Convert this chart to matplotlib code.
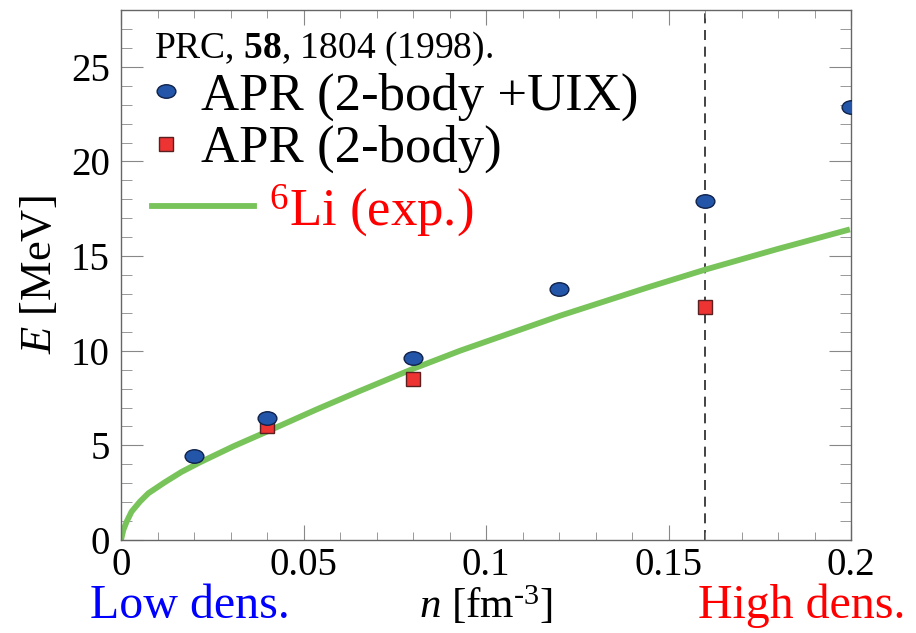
import matplotlib
matplotlib.use("Agg")
import matplotlib.pyplot as plt
from matplotlib.path import Path
from matplotlib.lines import Line2D
from matplotlib.ticker import MultipleLocator

plt.rcParams['font.family'] = ['Liberation Serif', 'DejaVu Serif']
plt.rcParams['mathtext.fontset'] = 'custom'
plt.rcParams['mathtext.rm'] = 'Liberation Serif'
plt.rcParams['mathtext.it'] = 'Liberation Serif:italic'
plt.rcParams['mathtext.bf'] = 'Liberation Serif:bold'

# APR (2-body + UIX)
n_uix = [0.02, 0.04, 0.08, 0.12, 0.16, 0.20]
e_uix = [4.44, 6.46, 9.63, 13.26, 17.92, 22.89]

# APR (2-body)
n_2b = [0.04, 0.08, 0.16]
e_2b = [6.02, 8.49, 12.29]

# 6Li (exp.) curve
n_li = [0.0, 0.00064, 0.00155, 0.0029, 0.0052, 0.0075, 0.012, 0.0166, 0.0216,
        0.0308, 0.0399, 0.0536, 0.0655, 0.0801, 0.0929, 0.1203, 0.1449,
        0.16, 0.18, 0.1997]
e_li = [0.0, 0.53, 0.97, 1.50, 2.03, 2.47, 3.05, 3.6, 4.1,
        4.95, 5.72, 6.9, 7.88, 9.05, 10.0, 11.85, 13.38,
        14.28, 15.38, 16.41]

blue = '#2356a8'
red = '#ee3333'
green = '#78c45a'

# ellipse marker (wider than tall)
circ = Path.unit_circle()
ellipse = Path(circ.vertices * [1.0, 0.72], circ.codes)

fig = plt.figure(figsize=(9.16, 6.33), dpi=100)
ax = fig.add_axes([121/916, 1-540/633, 730/916, 530/633])

ax.plot(n_li, e_li, color=green, lw=4.2, solid_capstyle='butt', solid_joinstyle='round', zorder=2)
ax.axvline(0.16, color='#222222', lw=1.2, ls=(0, (6, 4)), zorder=1)
ax.plot(n_2b, e_2b, ls='none', marker='s', ms=10, mfc=red, mec='#5a2020', mew=1.0, zorder=3)
ax.plot(n_uix, e_uix, ls='none', marker=ellipse, ms=13.5, mfc=blue, mec='#10224a', mew=1.0, zorder=4)

ax.set_xlim(0, 0.2)
ax.set_ylim(0, 28)
ax.xaxis.set_major_locator(MultipleLocator(0.05))
ax.xaxis.set_minor_locator(MultipleLocator(0.01))
ax.yaxis.set_major_locator(MultipleLocator(5))
ax.yaxis.set_minor_locator(MultipleLocator(1))
ax.set_xticks([0, 0.05, 0.1, 0.15, 0.2])
ax.set_xticklabels(['0', '0.05', '0.1', '0.15', '0.2'])
ax.tick_params(which='both', direction='in', top=True, right=True, colors='#888888',
               labelcolor='black', labelsize=28)
ax.tick_params(axis='x', which='major', length=11, pad=5)
ax.tick_params(axis='x', which='minor', length=5.5)
ax.tick_params(axis='y', which='major', length=16, pad=8)
ax.tick_params(axis='y', which='minor', length=8)
for s in ax.spines.values():
    s.set_color('#666666')
    s.set_linewidth(1.0)

ax.set_xlabel('$n$ [fm$^{\\text{-3}}$]', fontsize=31, labelpad=0)
ax.set_ylabel('$E$ [MeV]', fontsize=32, labelpad=8)

h_uix = Line2D([], [], ls='none', marker=ellipse, ms=13.5, mfc=blue, mec='#10224a', mew=1.0)
h_2b = Line2D([], [], ls='none', marker='s', ms=10, mfc=red, mec='#5a2020', mew=1.0)
leg1 = ax.legend([h_uix, h_2b], ['APR (2-body +UIX)', 'APR (2-body)'],
                 loc='upper left', bbox_to_anchor=(0.045, 0.962), frameon=False,
                 fontsize=38, handlelength=0.45, handletextpad=0.45, labelspacing=0.08,
                 borderpad=0.0, borderaxespad=0.0,
                 title='PRC, $\\mathbf{58}$, 1804 (1998).', title_fontsize=27,
                 alignment='left')
ax.add_artist(leg1)

h_li = Line2D([], [], color=green, lw=4.2)
leg2 = ax.legend([h_li], ['$^{6}$Li (exp.)'], loc='upper left',
                 bbox_to_anchor=(0.042, 0.676), frameon=False, fontsize=38,
                 handlelength=1.93, handletextpad=0.3, borderpad=0.0, borderaxespad=0.0)
for t in leg2.get_texts():
    t.set_color('red')

fig.text(90/916, 1-606/633, 'Low dens.', color='blue', fontsize=34.5, va='center', ha='left')
fig.text(905/916, 1-606/633, 'High dens.', color='red', fontsize=34.5, va='center', ha='right')

fig.savefig('out.png', dpi=100)
